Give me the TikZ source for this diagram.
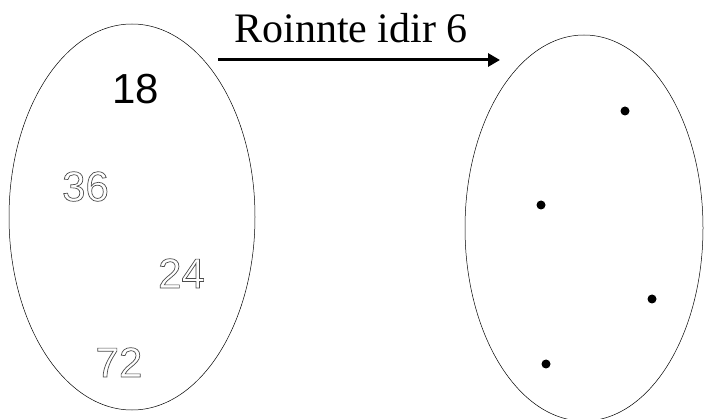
\documentclass[tikz,border=0pt]{standalone}
\usepackage{fontspec}
\setmainfont{Liberation Serif}
\newfontfamily\numfont{Liberation Sans}
\usetikzlibrary{arrows.meta,shapes.geometric}
\newcommand{\hollowtext}[1]{\special{pdf:literal 1 Tr 0.7 w}#1\special{pdf:literal 0 Tr}}
\begin{document}
\begin{tikzpicture}[x=1pt,y=-1pt,
  setshape/.style={draw, ellipse, line width=0.5pt, inner sep=0pt},
  dotnode/.style={circle, fill=black, minimum size=9pt, inner sep=0pt},
  solidnum/.style={anchor=base, inner sep=0pt, font=\numfont\fontsize{42}{42}\selectfont},
  hollownum/.style={anchor=base, inner sep=0pt, font=\numfont\fontsize{42}{42}\selectfont, text=black!70}]
\useasboundingbox (0,0) rectangle (704,419);
\node[setshape, minimum width=246pt, minimum height=386pt] (A) at (132,217) {};
\node[setshape, minimum width=238pt, minimum height=386pt] (B) at (584,228) {};
\coordinate (s) at (218,60);
\coordinate (e) at (500,60);
\draw[line width=3pt, -{Triangle[length=12pt,width=13pt]}] (s) -- (e);
\node[anchor=base, inner sep=0pt, font=\fontsize{42}{42}\selectfont] (lab) at (351,43) {Roinnte idir 6};
\node[solidnum] (n18) at (136,104) {18};
\node[hollownum] (n36) at (85.5,201) {\hollowtext{36}};
\node[hollownum] (n24) at (181.5,288) {\hollowtext{24}};
\node[hollownum] (n72) at (119,377) {\hollowtext{72}};
\node[dotnode] (d1) at (625,111) {};
\node[dotnode] (d2) at (541,205) {};
\node[dotnode] (d3) at (652,299) {};
\node[dotnode] (d4) at (546,364) {};
\end{tikzpicture}
\end{document}
